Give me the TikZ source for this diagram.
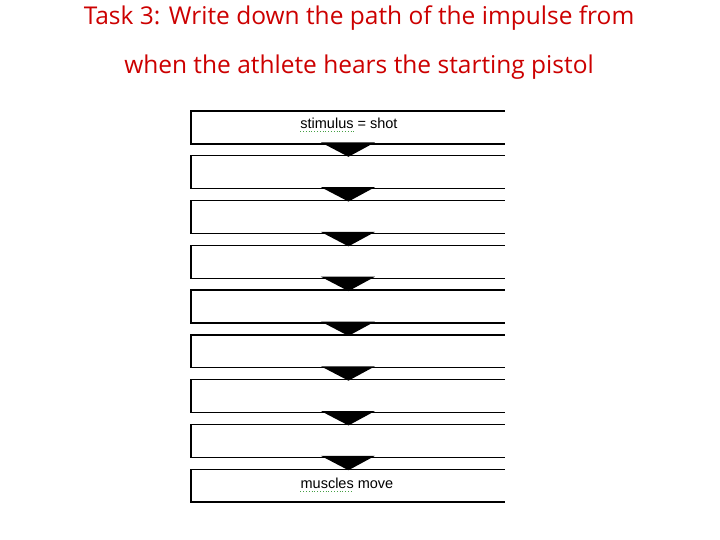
\documentclass[tikz,border=0pt]{standalone}
\usepackage{fontspec}
\setmainfont{Liberation Sans}
\newfontfamily\titlefont{Open Sans}
\usetikzlibrary{calc}
\definecolor{titlered}{RGB}{204,0,0}
\definecolor{spellgreen}{RGB}{70,160,70}

\begin{document}
\begin{tikzpicture}[x=1pt,y=-1pt,
	stage/.style={rectangle, minimum width=313.5pt, minimum height=32.5pt, inner sep=0pt, anchor=north west},
	stagetext/.style={inner sep=0pt, font=\fontsize{14.5}{16}\selectfont},
	title/.style={text=titlered, inner sep=0pt, font=\titlefont\fontsize{24.5}{28}\selectfont},
	spell/.style={spellgreen, line width=0.8pt, dotted}]
		%%%%% START %%%%%
		
		\useasboundingbox (0, 0) rectangle (720, 540);
		
		\node[title] (task) at (359, 18) {Task 3: Write down the path of the impulse from};
		\node[title] (task2) at (359, 67) {when the athlete hears the starting pistol};
		
		\foreach \i in {1,...,9} {
			\node[stage] (b\i) at (191, {111+44.78*(\i-1)}) {};
			\draw[line width=1.3pt] (b\i.north east) -- (b\i.north west) -- (b\i.south west) -- (b\i.south east);
		}
		
		\foreach \i [evaluate=\i as \j using int(\i+1)] in {1,...,8}
			\fill ($(b\i.south)+(-27, -1.5)$) -- ($(b\i.south)+(27, -1.5)$) -- ($(b\j.north)+(0.5, 1)$) -- cycle;
		
		\node[stagetext] (shot) at ($(b1.center)+(1, -4)$) {stimulus = shot};
		\draw[spell] ($(shot.base west)+(0, 3)$) -- ++(55, 0);
		
		\node[stagetext] (move) at ($(b9.center)+(-1, -2)$) {muscles move};
		\draw[spell] ($(move.base west)+(0, 3)$) -- ++(51, 0);
		
		%%%%% END %%%%%
	\end{tikzpicture}
\end{document}
